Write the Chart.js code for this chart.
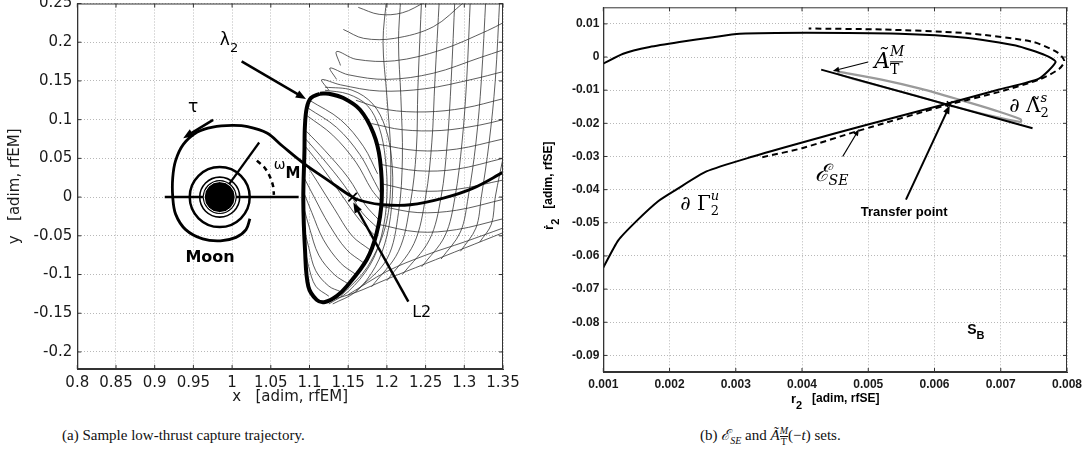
<!DOCTYPE html>
<html lang="en">
<head>
<meta charset="UTF-8">
<title>Low-thrust capture trajectory</title>
<script src="https://cdn.jsdelivr.net/npm/chart.js"></script>
<style>
  body { margin:0; background:#fff; width:1091px; height:467px; position:relative; overflow:hidden; }
  .panel { position:absolute; top:0; height:410px; }
  #left { left:0; width:540px; }
  #right { left:540px; width:551px; }
  .caption { position:absolute; top:426px; font-family:"Liberation Serif", serif; font-size:15px; color:#111; white-space:nowrap; line-height:18px; }
  .caption sub { font-size:10px; }
  .frac { display:inline-block; vertical-align:-5px; font-size:10px; line-height:10px; text-align:center; }
  .frac span { display:block; }
  .ov { border-top:1px solid #111; }
</style>
</head>
<body>
<div class="panel" id="left"><canvas id="chartA" width="540" height="410"></canvas></div>
<div class="panel" id="right"><canvas id="chartB" width="551" height="410"></canvas></div>
<div class="caption" style="left:62px">(a) Sample low-thrust capture trajectory.</div>
<div class="caption" style="left:700px">(b) <i>ℰ</i><sub><i>SE</i></sub> and <i>Ã</i><span class="frac"><span><i>M</i></span><span class="ov">T</span></span>(−<i>t</i>) sets.</div>

<script>
// ---------- panel (a) data ----------
const xTicksA = [0.8, 0.85, 0.9, 0.95, 1, 1.05, 1.1, 1.15, 1.2, 1.25, 1.3, 1.35];
const yTicksA = [-0.2, -0.15, -0.1, -0.05, 0, 0.05, 0.1, 0.15, 0.2, 0.25];

const moonCenter = [[0.984, 0]];
const l2Point = [[1.1557, 0]];

const haloOrbit = [[1.1136,0.1335],[1.102,0.128],[1.0964,0.115],[1.094,0.09],[1.0935,0.06],[1.092,-0.0035],
  [1.0942,-0.068],[1.0985,-0.1155],[1.1093,-0.1327],[1.12,-0.1355],[1.135,-0.128],[1.148,-0.1155],
  [1.1739,-0.081],[1.1868,-0.0465],[1.1933,-0.0035],[1.1911,0.0482],[1.1825,0.0827],[1.1653,0.1128],
  [1.1437,0.1279],[1.125,0.1335],[1.1136,0.1335]];

const trajectory = [[1.35,0.032],[1.3116,0.0116],[1.273,-0.0013],[1.23,-0.0099],[1.195,-0.0099],[1.172,-0.006],
  [1.1557,0.0],[1.125,0.021],[1.092,0.044],[1.065,0.066],[1.045,0.0827],[1.02,0.091],[1.0,0.0925],
  [0.975,0.0905],[0.955,0.084],[0.937,0.068],[0.927,0.047],[0.9233,0.025],[0.9233,0.0],[0.927,-0.022],
  [0.94,-0.042],[0.962,-0.054],[0.985,-0.0565],[1.005,-0.052],[1.018,-0.042],[1.023,-0.028]];

const moonAxis = [[0.913,0],[1.086,0]];
const moonRadius = [[0.984,0],[1.035,0.0705]];
const omegaArc = [[1.032,0.047],[1.042,0.038],[1.049,0.026],[1.053,0.014],[1.054,0.003]];

const innerArcs = [
  [[1.100,0.125],[1.140,0.100],[1.170,0.065],[1.188,0.030]],
  [[1.098,0.115],[1.135,0.090],[1.165,0.055],[1.184,0.020],[1.192,0.005]],
  [[1.097,0.105],[1.130,0.080],[1.160,0.045],[1.180,0.010],[1.192,-0.005]],
  [[1.096,0.085],[1.120,0.060],[1.150,0.025],[1.172,-0.010],[1.190,-0.030]],
  [[1.095,0.075],[1.117,0.050],[1.145,0.015],[1.168,-0.020],[1.188,-0.040]],
  [[1.095,0.065],[1.115,0.040],[1.140,0.005],[1.165,-0.030],[1.185,-0.050]],
  [[1.094,0.045],[1.110,0.020],[1.132,-0.015],[1.155,-0.050],[1.178,-0.068]],
  [[1.093,0.025],[1.106,0.000],[1.125,-0.035],[1.148,-0.068],[1.170,-0.085]],
  [[1.093,0.005],[1.103,-0.020],[1.118,-0.055],[1.140,-0.085],[1.160,-0.100]],
  [[1.093,-0.015],[1.100,-0.040],[1.112,-0.075],[1.132,-0.100],[1.150,-0.112]],
  [[1.093,-0.040],[1.099,-0.065],[1.108,-0.095],[1.125,-0.115],[1.140,-0.122]],
  [[1.094,-0.065],[1.099,-0.090],[1.108,-0.115],[1.125,-0.128]]
];

const tipArcs = [
  [[1.163,0.245],[1.19,0.236],[1.22,0.238],[1.25,0.252]],
  [[1.1437,0.2165],[1.17,0.205],[1.21,0.205],[1.26,0.22],[1.30,0.252]],
  [[1.14,0.17],[1.135,0.188],[1.16,0.178],[1.21,0.176],[1.27,0.19],[1.33,0.215],[1.35,0.225]],
  [[1.135,0.152],[1.1265,0.1667],[1.15,0.158],[1.2,0.152],[1.26,0.16],[1.32,0.18],[1.35,0.19]],
  [[1.125,0.138],[1.1158,0.1516],[1.14,0.145],[1.19,0.137],[1.25,0.14],[1.31,0.152],[1.35,0.162]]
];

const sideArcs = [
  [[1.16,0.125],[1.2,0.113],[1.25,0.11],[1.3,0.115],[1.35,0.127]],
  [[1.18,0.095],[1.22,0.087],[1.27,0.086],[1.32,0.093],[1.35,0.1]],
  [[1.19,0.068],[1.24,0.06],[1.29,0.062],[1.35,0.075]],
  [[1.193,0.042],[1.24,0.034],[1.29,0.036],[1.35,0.05]],
  [[1.194,0.017],[1.24,0.008],[1.29,0.01],[1.35,0.022]],
  [[1.193,-0.012],[1.24,-0.02],[1.29,-0.017],[1.35,-0.003]],
  [[1.188,-0.035],[1.24,-0.045],[1.29,-0.042],[1.35,-0.028]],
  [[1.15,-0.126],[1.2,-0.096],[1.25,-0.075],[1.3,-0.058],[1.35,-0.04]],
  [[1.12,-0.135],[1.16,-0.123],[1.2,-0.106],[1.25,-0.086],[1.3,-0.066],[1.35,-0.046]]
];

const fanLines = [
  [[1.14,-0.128],[1.175,-0.09],[1.2,-0.03],[1.205,0.05],[1.2,0.13],[1.195,0.2],[1.2,0.26]],
  [[1.16,-0.122],[1.2,-0.08],[1.215,-0.02],[1.22,0.05],[1.218,0.13],[1.215,0.2],[1.218,0.26]],
  [[1.18,-0.116],[1.215,-0.07],[1.23,-0.01],[1.238,0.06],[1.24,0.14],[1.245,0.26]],
  [[1.2,-0.108],[1.235,-0.06],[1.25,0.0],[1.258,0.07],[1.262,0.15],[1.268,0.26]],
  [[1.22,-0.1],[1.255,-0.055],[1.27,0.0],[1.278,0.07],[1.283,0.15],[1.288,0.26]],
  [[1.245,-0.09],[1.275,-0.05],[1.288,0.0],[1.297,0.07],[1.303,0.15],[1.308,0.26]],
  [[1.27,-0.08],[1.295,-0.045],[1.305,0.0],[1.315,0.07],[1.322,0.15],[1.328,0.26]],
  [[1.295,-0.07],[1.315,-0.04],[1.322,0.0],[1.332,0.07],[1.34,0.15],[1.346,0.26]],
  [[1.32,-0.058],[1.335,-0.035],[1.34,0.0],[1.352,0.06]]
];

const haloShells = [
  [[1.12,0.138],[1.15,0.133],[1.175,0.118],[1.19,0.09],[1.198,0.05],[1.2,0.0],[1.193,-0.05],[1.178,-0.088],[1.15,-0.122],[1.125,-0.138]],
  [[1.12,0.142],[1.155,0.138],[1.182,0.12],[1.198,0.09],[1.206,0.05],[1.207,0.0],[1.2,-0.05],[1.185,-0.09],[1.16,-0.122],[1.13,-0.138]]
];

// arrows [from, to]
const arrowsA = [
  [[1.0123,0.1752],[1.0955,0.1266]],
  [[0.9755,0.0997],[0.9368,0.0761]],
  [[1.2277,-0.135],[1.1566,-0.007]]
];

// ---------- panel (b) data ----------
const xTicksB = [0.001, 0.002, 0.003, 0.004, 0.005, 0.006, 0.007, 0.008];
const yTicksB = [-0.09, -0.08, -0.07, -0.06, -0.05, -0.04, -0.03, -0.02, -0.01, 0, 0.01];

const gammaU = [[0.001,-0.0635],[0.001226,-0.0553],[0.0015,-0.0495],[0.001828,-0.0435],[0.0021,-0.0400],
  [0.002557,-0.0345],[0.003259,-0.0300],[0.003961,-0.0260],[0.004967,-0.0205],[0.0062,-0.0140],
  [0.006976,-0.0098],[0.007576,-0.0065],[0.007828,-0.0015],[0.007678,0.0005],[0.007226,0.0035],
  [0.006473,0.0058],[0.005468,0.0070],[0.004063,0.0073],[0.003059,0.0070],[0.00266,0.0060],
  [0.00215,0.0045],[0.0017,0.0030],[0.0013,0.0010],[0.001,-0.0020]];

const epsSE = [[0.0034,-0.0302],[0.0040,-0.0275],[0.00486,-0.0222],[0.00617,-0.0146],[0.00698,-0.0105],
  [0.00758,-0.0068],[0.00788,-0.0036],[0.00796,-0.0012],[0.00786,0.0013],[0.00748,0.0046],
  [0.00647,0.0072],[0.00522,0.0083],[0.0041,0.0086]];

const attainSet = [[0.00455,-0.0044],[0.0052,-0.0068],[0.0058,-0.0096],[0.0064,-0.0130],[0.0069,-0.0160],
  [0.0073,-0.0188],[0.0073,-0.0196],[0.0068,-0.0175],[0.0062,-0.0144],[0.0056,-0.0110],[0.0050,-0.0078],
  [0.00455,-0.0052],[0.00455,-0.0044]];

const lambdaS = [[0.004289,-0.0038],[0.00748,-0.0215]];
const transferPoint = [[0.00623,-0.0142]];

const arrowsB = [
  [[0.004997,-0.0015],[0.004464,-0.0042], 1.2, 7],
  [[0.004614,-0.0300],[0.00486,-0.0218], 1.2, 7],
  [[0.005569,-0.0430],[0.00623,-0.0146], 2, 9]
];

// ---------- helpers ----------
const pts = a => a.map(p => ({x: p[0], y: p[1]}));

function lineSet(data, width, color, order, tension, dash) {
  return { data: pts(data), showLine: true, pointRadius: 0, pointHoverRadius: 0, borderWidth: width,
    borderColor: color, borderDash: dash || [], tension: tension || 0, fill: false, order: order };
}
function ringSet(data, radius, width, color, fillColor, order) {
  return { data: pts(data), showLine: false, pointRadius: radius, pointHoverRadius: radius, pointBorderWidth: width,
    pointBorderColor: color, pointBackgroundColor: fillColor, order: order };
}

function axis(ticksArr, min, max, font, pad, title, titlePad, fit, isX) {
  return {
    type: 'linear', min: min, max: max,
    afterBuildTicks: s => { s.ticks = ticksArr.map(v => ({value: v})); },
    afterFit: s => {
      if (isX) { s.height = fit; s.paddingLeft = 0; s.paddingRight = 0; }
      else { s.width = fit; s.paddingTop = 0; s.paddingBottom = 0; }
    },
    ticks: { callback: v => String(v), font: font, color: '#1a1a1a', padding: pad, autoSkip: false, maxRotation: 0 },
    grid: { color: '#b8b8b8', lineWidth: 1, drawTicks: false },
    border: { display: true, color: '#333', width: 1, dash: [1, 2] },
    title: { display: !!title, text: title || '', font: font, color: '#1a1a1a', padding: titlePad }
  };
}

function drawArrow(ctx, a, b, w, head) {
  const ang = Math.atan2(b[1] - a[1], b[0] - a[0]);
  ctx.save();
  ctx.strokeStyle = '#000'; ctx.fillStyle = '#000'; ctx.lineWidth = w;
  ctx.beginPath(); ctx.moveTo(a[0], a[1]);
  ctx.lineTo(b[0] - Math.cos(ang) * head * 0.7, b[1] - Math.sin(ang) * head * 0.7); ctx.stroke();
  ctx.beginPath(); ctx.moveTo(b[0], b[1]);
  ctx.lineTo(b[0] - head * Math.cos(ang - 0.38), b[1] - head * Math.sin(ang - 0.38));
  ctx.lineTo(b[0] - head * Math.cos(ang + 0.38), b[1] - head * Math.sin(ang + 0.38));
  ctx.closePath(); ctx.fill();
  ctx.restore();
}

// parts: [text, font, dy, sameColumn]
function mathText(ctx, parts, cx, cy) {
  let w = 0, colStart = 0, colW = 0;
  const laid = [];
  parts.forEach(p => {
    ctx.font = p[1];
    const pw = ctx.measureText(p[0]).width;
    if (p[3]) { laid.push([p, colStart, pw]); colW = Math.max(colW, pw); w = colStart + colW; }
    else { colStart = w; colW = pw; laid.push([p, colStart, pw]); w = colStart + pw; }
  });
  ctx.save();
  ctx.fillStyle = '#000'; ctx.textAlign = 'left'; ctx.textBaseline = 'middle';
  laid.forEach(l => { ctx.font = l[0][1]; ctx.fillText(l[0][0], cx - w / 2 + l[1], cy + (l[0][2] || 0)); });
  ctx.restore();
  return cx - w / 2;
}

function frameOf(chart, xt, yt) {
  const {ctx, chartArea: c} = chart;
  ctx.save();
  ctx.strokeStyle = '#333'; ctx.lineWidth = 1;
  ctx.strokeRect(c.left + 0.5, c.top + 0.5, c.right - c.left - 1, c.bottom - c.top - 1);
  ctx.beginPath();
  xt.forEach(v => { const x = chart.scales.x.getPixelForValue(v);
    ctx.moveTo(x, c.bottom); ctx.lineTo(x, c.bottom - 4); ctx.moveTo(x, c.top); ctx.lineTo(x, c.top + 4); });
  yt.forEach(v => { const y = chart.scales.y.getPixelForValue(v);
    ctx.moveTo(c.left, y); ctx.lineTo(c.left + 4, y); ctx.moveTo(c.right, y); ctx.lineTo(c.right - 4, y); });
  ctx.stroke();
  ctx.restore();
}

const px = (chart, p) => [chart.scales.x.getPixelForValue(p[0]), chart.scales.y.getPixelForValue(p[1])];

// ---------- panel (a) ----------
const setsA = [];
innerArcs.forEach(a => setsA.push(lineSet(a, 0.8, '#333', 10, 0.35)));
tipArcs.forEach(a => setsA.push(lineSet(a, 0.8, '#333', 10, 0.35)));
sideArcs.forEach(a => setsA.push(lineSet(a, 0.8, '#333', 10, 0.35)));
fanLines.forEach(a => setsA.push(lineSet(a, 0.8, '#333', 10, 0.35)));
haloShells.forEach(a => setsA.push(lineSet(a, 0.8, '#333', 10, 0.35)));
setsA.push(lineSet(haloOrbit, 4, '#000', 6, 0.35));
setsA.push(lineSet(trajectory, 2.8, '#000', 5, 0.35));
setsA.push(lineSet(moonAxis, 2.5, '#000', 5, 0));
setsA.push(lineSet(moonRadius, 2.2, '#000', 5, 0));
setsA.push(lineSet(omegaArc, 2.5, '#000', 5, 0.3, [5, 4]));
setsA.push(ringSet(moonCenter, 30, 2.5, '#000', 'rgba(0,0,0,0)', 4));
setsA.push(ringSet(moonCenter, 20, 1.6, '#000', 'rgba(0,0,0,0)', 4));
setsA.push(ringSet(moonCenter, 17, 0, '#000', '#000', 3));
setsA.push(ringSet(moonCenter, 15.5, 1, '#fff', 'rgba(0,0,0,0)', 2));
setsA.push({ data: pts(l2Point), showLine: false, pointStyle: 'crossRot', pointRadius: 6, pointHoverRadius: 6,
  pointBorderWidth: 1.8, pointBorderColor: '#000', order: 1 });

const fontA = {family: 'DejaVu Sans', size: 15};
const annotA = {
  id: 'annotA',
  afterDatasetsDraw(chart) {
    const ctx = chart.ctx;
    frameOf(chart, xTicksA, yTicksA);
    arrowsA.forEach(a => drawArrow(ctx, px(chart, a[0]), px(chart, a[1]), 2.5, 11));
    let p = px(chart, [0.996, 0.199]);
    mathText(ctx, [['λ', '17px "DejaVu Sans"', -2], ['2', '13px "DejaVu Sans"', 6]], p[0], p[1]);
    p = px(chart, [0.9495, 0.1153]);
    mathText(ctx, [['τ', '17px "DejaVu Sans"', 0]], p[0], p[1]);
    p = px(chart, [1.071, 0.0353]);
    mathText(ctx, [['ω', '14px "DejaVu Sans"', -4], ['M', 'bold 15px "DejaVu Sans"', 4]], p[0], p[1]);
    p = px(chart, [0.9715, -0.0788]);
    mathText(ctx, [['Moon', 'bold 16px "DejaVu Sans"', 0]], p[0], p[1]);
    p = px(chart, [1.245, -0.15]);
    mathText(ctx, [['L2', '16px "DejaVu Sans"', 0]], p[0], p[1]);
  }
};

new Chart(document.getElementById('chartA'), {
  type: 'scatter',
  data: { datasets: setsA },
  options: {
    responsive: false, animation: false, events: [],
    layout: { autoPadding: false, padding: { left: 0, top: 3.5, right: 37, bottom: 0 } },
    plugins: { legend: { display: false }, tooltip: { enabled: false } },
    scales: {
      x: axis(xTicksA, 0.8, 1.35, fontA, 5, 'x   [adim, rfEM]', {top: 0, bottom: 4}, 41, true),
      y: axis(yTicksA, -0.222, 0.25, fontA, 5, 'y   [adim, rfEM]', {top: 6, bottom: 0}, 77.3, false)
    }
  },
  plugins: [annotA]
});

// ---------- panel (b) ----------
const setsB = [
  lineSet(attainSet, 2.2, '#9a9a9a', 6, 0.3),
  lineSet(epsSE, 2, '#000', 5, 0.25, [6, 4]),
  lineSet(gammaU, 2, '#000', 4, 0.2),
  lineSet(lambdaS, 2, '#000', 3, 0),
  { data: pts(transferPoint), showLine: false, pointStyle: 'crossRot', pointRadius: 4, pointHoverRadius: 4,
    pointBorderWidth: 1.5, pointBorderColor: '#000', order: 1 }
];

const fontB = {family: 'Liberation Sans', size: 12, weight: 'bold'};
const annotB = {
  id: 'annotB',
  afterDatasetsDraw(chart) {
    const ctx = chart.ctx;
    const c = chart.chartArea;
    frameOf(chart, xTicksB, yTicksB);
    arrowsB.forEach(a => drawArrow(ctx, px(chart, a[0]), px(chart, a[1]), a[2], a[3]));
    const serif = '"DejaVu Serif"';
    const sans = '"Liberation Sans"';
    let p = px(chart, [0.002456, -0.0445]);
    mathText(ctx, [['∂ ', 'italic 20px ' + serif, 0], ['Γ', '20px ' + serif, 0], ['2', '13px ' + serif, 7],
      ['u', 'italic 13px ' + serif, -8, true]], p[0], p[1]);
    p = px(chart, [0.004444, -0.0355]);
    mathText(ctx, [['ℰ', 'italic 24px ' + serif, 0], ['SE', 'italic 14px ' + serif, 7]], p[0], p[1]);
    p = px(chart, [0.007426, -0.015]);
    mathText(ctx, [['∂ ', 'italic 20px ' + serif, 0], ['Λ̃', '20px ' + serif, 0], ['2', '13px ' + serif, 7],
      ['s', 'italic 13px ' + serif, -8, true]], p[0], p[1]);
    p = px(chart, [0.005317, -0.001]);
    const left = mathText(ctx, [['Ã', 'italic 22px ' + serif, 2], ['M', 'italic 14px ' + serif, -8],
      ['T', '14px ' + serif, 10, true]], p[0], p[1]);
    ctx.save();
    ctx.font = 'italic 22px ' + serif;
    const aw = ctx.measureText('Ã').width;
    ctx.fillStyle = '#000';
    ctx.fillRect(left + aw, p[1] + 1, 13, 1);
    ctx.restore();
    p = px(chart, [0.005542, -0.0468]);
    mathText(ctx, [['Transfer point', 'bold 13px ' + sans, 0]], p[0], p[1]);
    p = px(chart, [0.006623, -0.0825]);
    mathText(ctx, [['S', 'bold 14px ' + sans, 0], ['B', 'bold 11px ' + sans, 5]], p[0], p[1]);
    // axis titles
    mathText(ctx, [['r', 'bold 13px ' + sans, -2], ['2', 'bold 11px ' + sans, 5], ['   [adim, rfSE]', 'bold 12px ' + sans, -2]],
      (c.left + c.right) / 2, chart.height - 9);
    ctx.save();
    ctx.translate(11, (c.top + c.bottom) / 2 - 4);
    ctx.rotate(-Math.PI / 2);
    mathText(ctx, [['ṙ', 'bold 13px ' + sans, -2], ['2', 'bold 11px ' + sans, 5], ['   [adim, rfSE]', 'bold 12px ' + sans, -2]], 0, 0);
    ctx.restore();
  }
};

new Chart(document.getElementById('chartB'), {
  type: 'scatter',
  data: { datasets: setsB },
  options: {
    responsive: false, animation: false, events: [],
    layout: { autoPadding: false, padding: { left: 0, top: 7.3, right: 24, bottom: 0 } },
    plugins: { legend: { display: false }, tooltip: { enabled: false } },
    scales: {
      x: axis(xTicksB, 0.001, 0.008, fontB, 5, null, 0, 38, true),
      y: axis(yTicksB, -0.095, 0.015, fontB, 4, null, 0, 63.3, false)
    }
  },
  plugins: [annotB]
});
</script>
</body>
</html>
